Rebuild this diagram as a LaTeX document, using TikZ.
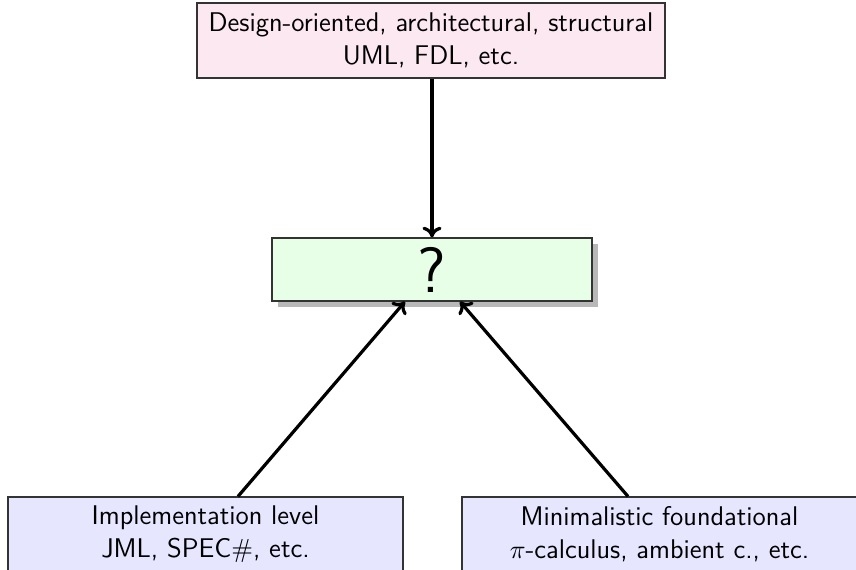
\documentclass[tikz,border=0pt]{standalone}
\usetikzlibrary{shadows,arrows.meta}
\definecolor{toppink}{RGB}{252,232,240}
\definecolor{midgreen}{RGB}{230,255,230}
\definecolor{botblue}{RGB}{230,230,255}
\begin{document}
\begin{tikzpicture}[x=0.42pt,y=-0.42pt,
  box/.style={draw=black!80, line width=0.5pt, align=center, inner sep=0pt,
    font=\sffamily\fontsize{11.35}{13.9}\selectfont},
  arr/.style={-{To[length=4.5pt,width=8pt]}, line width=1.35pt}]
\useasboundingbox (0,0) rectangle (856,569);
\clip (0,0) rectangle (856,569);
\node[box, fill=toppink, minimum width=468*0.42pt, minimum height=75*0.42pt] (top) at (431,40.5)
  {Design-oriented, architectural, structural\\UML, FDL, etc.};
\node[box, fill=midgreen, minimum width=320*0.42pt, minimum height=63*0.42pt,
  drop shadow={shadow xshift=2.5pt, shadow yshift=-2.5pt, fill=black!28, opacity=1}] (mid) at (432,269.5)
  {\fontsize{27}{30}\selectfont ?};
\node[box, fill=botblue, minimum width=395*0.42pt, minimum height=75*0.42pt] (left) at (205.5,534.5)
  {Implementation level\\JML, SPEC$\#$, etc.};
\node[box, fill=botblue, minimum width=395*0.42pt, minimum height=75*0.42pt] (right) at (659.5,534.5)
  {Minimalistic foundational\\$\pi$-calculus, ambient c., etc.};
\draw[arr] (top.south -| mid.north) -- (mid.north);
\coordinate (ml) at (405,301);
\coordinate (mr) at (460,301);
\coordinate (ls) at (238,497);
\coordinate (rs) at (628,497);
\draw[arr] (left.north -| ls) -- (mid.south -| ml);
\draw[arr] (right.north -| rs) -- (mid.south -| mr);
\end{tikzpicture}
\end{document}
